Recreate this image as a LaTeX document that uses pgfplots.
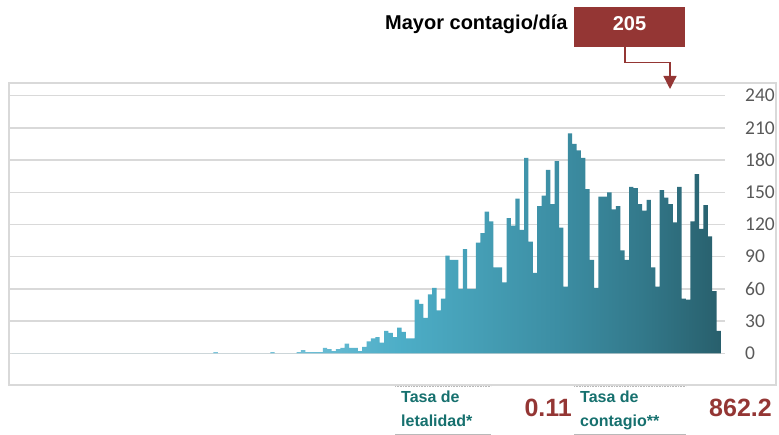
\documentclass[border=0pt]{standalone}
\usepackage{fontspec}
\setmainfont{Liberation Sans}
\newfontfamily\carlito{Carlito}
\usepackage{pgfplots}
\pgfplotsset{compat=1.18}
\usetikzlibrary{arrows.meta}
\definecolor{darkred}{RGB}{148,54,52}
\definecolor{teal2}{RGB}{22,112,110}
\definecolor{gridgray}{RGB}{217,217,217}
\definecolor{ticklab}{RGB}{89,89,89}
\pgfdeclarehorizontalshading{barshade}{100bp}{%
  rgb(0bp)=(0.60,0.83,0.90);
  rgb(25bp)=(0.60,0.83,0.90);
  rgb(45bp)=(0.44,0.75,0.84);
  rgb(52.4bp)=(0.30,0.68,0.78);
  rgb(58bp)=(0.27,0.62,0.71);
  rgb(63.6bp)=(0.235,0.555,0.64);
  rgb(69.3bp)=(0.20,0.475,0.545);
  rgb(75bp)=(0.157,0.373,0.424);
  rgb(100bp)=(0.157,0.373,0.424)}
\begin{document}
\begin{tikzpicture}[x=1pt,y=1pt]
\useasboundingbox (0,0) rectangle (779,435);
\draw[gridgray, line width=1.3pt] (9,50) rectangle (776,352);
\begin{axis}[at={(9pt,81.7pt)}, anchor=south west, scale only axis,
  width=716pt, height=257.6pt,
  xmin=0.26, xmax=163.92, ymin=0, ymax=240,
  ytick={0,30,...,240}, xtick=\empty,
  ymajorgrids, grid style={gridgray, line width=1.3pt},
  axis line style={draw=none}, major tick length=0pt,
  yticklabel pos=right,
  yticklabel style={anchor=west, inner sep=0pt, xshift=20pt,
    font=\carlito\fontsize{19.5}{20}\selectfont, text=ticklab},
  /pgf/number format/assume math mode=true, clip=false]
\addplot[const plot mark left, draw=none, mark=none,
  shade, shading=barshade] coordinates {
(1,0)(2,0)(3,0)(4,0)(5,0)(6,0)(7,0)(8,0)(9,0)(10,0)
(11,0)(12,0)(13,0)(14,0)(15,0)(16,0)(17,0)(18,0)(19,0)(20,0)
(21,0)(22,0)(23,0)(24,0)(25,0)(26,0)(27,0)(28,0)(29,0)(30,0)
(31,0)(32,0)(33,0)(34,0)(35,0)(36,0)(37,0)(38,0)(39,0)(40,0)
(41,0)(42,0)(43,0)(44,0)(45,0)(46,0)(47,1)(48,0)(49,0)(50,0)
(51,0)(52,0)(53,0)(54,0)(55,0)(56,0)(57,0)(58,0)(59,0)(60,1)
(61,0)(62,0)(63,0)(64,0)(65,0)(66,1)(67,3)(68,1)(69,1)(70,1)
(71,1)(72,5)(73,4)(74,2)(75,4)(76,5)(77,9)(78,5)(79,5)(80,2)
(81,6)(82,11)(83,14)(84,15)(85,10)(86,21)(87,19)(88,15)(89,24)(90,20)
(91,14)(92,14)(93,50)(94,46)(95,33)(96,55)(97,61)(98,40)(99,51)(100,91)
(101,87)(102,87)(103,60)(104,97)(105,60)(106,60)(107,103)(108,112)(109,132)(110,123)
(111,80)(112,80)(113,66)(114,126)(115,119)(116,144)(117,115)(118,182)(119,104)(120,75)
(121,137)(122,147)(123,171)(124,139)(125,179)(126,117)(127,62)(128,205)(129,195)(130,189)
(131,182)(132,153)(133,87)(134,61)(135,146)(136,146)(137,150)(138,134)(139,137)(140,96)
(141,87)(142,155)(143,154)(144,139)(145,133)(146,143)(147,80)(148,62)(149,152)(150,145)
(151,139)(152,122)(153,155)(154,51)(155,50)(156,123)(157,167)(158,116)(159,138)(160,109)
(161,58)(162,21)(163,21)
} \closedcycle;
\end{axis}
% top annotation
\node[anchor=base west, inner sep=0pt, font=\bfseries\fontsize{20}{24}\selectfont] at (385,405.7) {Mayor contagio/día};
\fill[darkred] (574,388) rectangle (685,428);
\node[anchor=base, inner sep=0pt, text=white, font=\bfseries\fontsize{20}{24}\selectfont] at (629.5,404) {205};
\draw[darkred, line width=1.3pt, -{Triangle[width=13pt,length=13pt]}] (625,388) -- (625,372.3) -- (670,372.3) -- (670,346);
% bottom indicators
\draw[gray!55, line width=0.9pt, dash pattern=on 1pt off 0.6pt] (395,48.3) -- (491,48.3);
\draw[gray!55, line width=0.9pt] (395,1) -- (491,1);
\draw[gray!55, line width=0.9pt, dash pattern=on 1pt off 0.6pt] (574,48.3) -- (686,48.3);
\draw[gray!55, line width=0.9pt] (574,1) -- (686,1);
\node[anchor=base west, inner sep=0pt, text=teal2, font=\bfseries\fontsize{16}{19}\selectfont] at (401,32) {Tasa de};
\node[anchor=base west, inner sep=0pt, text=teal2, font=\bfseries\fontsize{16}{19}\selectfont] at (401,8) {letalidad*};
\node[anchor=base east, inner sep=0pt, text=darkred, font=\bfseries\fontsize{25}{28}\selectfont] at (572,18) {0.11};
\node[anchor=base west, inner sep=0pt, text=teal2, font=\bfseries\fontsize{16}{19}\selectfont] at (580,32) {Tasa de};
\node[anchor=base west, inner sep=0pt, text=teal2, font=\bfseries\fontsize{16}{19}\selectfont] at (580,8) {contagio**};
\node[anchor=base east, inner sep=0pt, text=darkred, font=\bfseries\fontsize{25}{28}\selectfont] at (772,18) {862.2};
\end{tikzpicture}
\end{document}
